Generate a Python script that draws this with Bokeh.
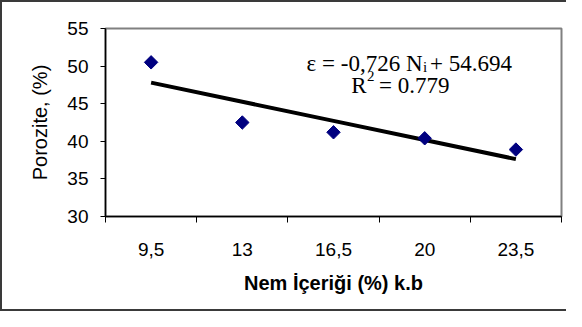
import numpy as np
from bokeh.plotting import figure
from bokeh.models import FixedTicker, Range1d, Label
from bokeh.embed import file_html
from bokeh.resources import INLINE

# ---- data ----
moisture_labels = ["9,5", "13", "16,5", "20", "23,5"]
moisture = [9.5, 13, 16.5, 20, 23.5]
porosity = [50.5, 42.5, 41.2, 40.4, 38.9]
y_ticks = [30, 35, 40, 45, 50, 55]
fit_slope = -0.726
fit_intercept = 54.694
eq_left = "ε = -0,726 N"
eq_sub = "i"
eq_right = "+ 54.694"
r2_left = "R"
r2_sup = "2"
r2_right = "= 0.779"

trend = [fit_intercept + fit_slope * m for m in moisture]

X0, X1 = 7.75, 25.25
Y0, Y1 = 30, 55
boundaries = [7.75, 11.25, 14.75, 18.25, 21.75, 25.25]

W, H = 566, 311
FL, FT, FW, FH = 113, 36, 456, 188  # frame in page coords

p = figure(width=W, height=H, output_backend="svg", toolbar_location=None,
           x_range=Range1d(X0, X1), y_range=Range1d(Y0, Y1),
           min_border_left=FL - 8, min_border_right=W - (FL + FW - 8),
           min_border_top=FT - 8, min_border_bottom=H - (FT + FH - 8))
p.border_fill_alpha = 0
p.background_fill_color = "white"
p.styles = {"box-shadow": "inset 2px 2px 0 #3a3a3a, inset 0 -2px 0 #3a3a3a",
            "background": "white"}
p.outline_line_color = "#808080"
p.outline_line_width = 2
p.xgrid.visible = False
p.ygrid.visible = False

def px2x(px):
    return X0 + (px - FL) / FW * (X1 - X0)

def px2y(py):
    return Y1 - (py - FT) / FH * (Y1 - Y0)

# axes
ya = p.yaxis[0]
ya.ticker = FixedTicker(ticks=y_ticks)
ya.major_tick_out = 5
ya.major_tick_in = 0
ya.minor_tick_out = 0
ya.minor_tick_in = 0
ya.axis_line_width = 1.5
ya.axis_line_color = "black"
ya.major_tick_line_color = "black"
ya.major_label_text_font = "Liberation Sans"
ya.major_label_text_font_size = "19px"
ya.major_label_text_color = "black"
ya.major_label_standoff = 12
ya.axis_label = "Porozite, (%)"
ya.axis_label_text_font = "Liberation Sans"
ya.axis_label_text_font_size = "20px"
ya.axis_label_text_font_style = "normal"
ya.axis_label_text_color = "black"
ya.axis_label_standoff = 13

xa = p.xaxis[0]
xa.ticker = FixedTicker(ticks=moisture, minor_ticks=boundaries)
xa.major_label_overrides = {m: lab for m, lab in zip(moisture, moisture_labels)}
xa.major_tick_out = 0
xa.major_tick_in = 0
xa.major_tick_line_color = None
xa.minor_tick_out = 6
xa.minor_tick_in = 0
xa.minor_tick_line_color = "black"
xa.axis_line_width = 1.5
xa.axis_line_color = "black"
xa.major_label_text_font = "Liberation Sans"
xa.major_label_text_font_size = "19px"
xa.major_label_text_color = "black"
xa.major_label_standoff = 20
xa.axis_label = "Nem İçeriği (%) k.b"
xa.axis_label_text_font = "Liberation Sans"
xa.axis_label_text_font_size = "20px"
xa.axis_label_text_font_style = "bold"
xa.axis_label_text_color = "black"
xa.axis_label_standoff = 13

# trend line and points
p.line(moisture, trend, line_color="black", line_width=4)
p.scatter(moisture, porosity, marker="square", angle=np.pi / 4, size=9.5,
          fill_color="#000080", line_color="#000080")

# equation text
serif = "Liberation Serif"

def add_text(px, py, txt, align, size):
    p.add_layout(Label(x=px2x(px), y=px2y(py), text=txt, text_align=align,
                       text_baseline="alphabetic", text_font=serif,
                       text_font_size=size, text_color="black"))

add_text(430.0, 70.7, eq_left, "right", "23px")
add_text(430.5, 74.0, eq_sub, "left", "15px")
add_text(437.5, 70.7, eq_right, "left", "23px")
add_text(374.0, 93.3, r2_left, "right", "23px")
add_text(374.5, 83.5, r2_sup, "left", "15px")
add_text(386.5, 93.3, r2_right, "left", "23px")

open("out.html", "w").write(file_html(p, INLINE))
